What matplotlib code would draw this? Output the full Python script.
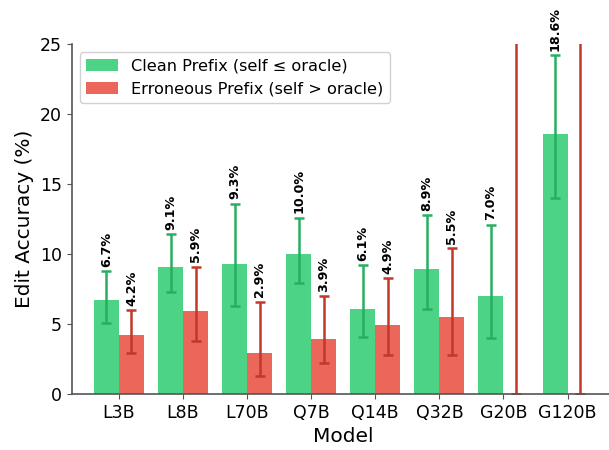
import matplotlib
matplotlib.use("Agg")
import matplotlib.pyplot as plt
import numpy as np

models = ["L3B", "L8B", "L70B", "Q7B", "Q14B", "Q32B", "G20B", "G120B"]
clean = [6.7, 9.1, 9.3, 10.0, 6.1, 8.9, 7.0, 18.6]
clean_lo = [5.1, 7.3, 6.3, 7.9, 4.1, 6.1, 4.0, 14.0]
clean_hi = [8.8, 11.4, 13.6, 12.6, 9.2, 12.8, 12.1, 24.2]
err = [4.2, 5.9, 2.9, 3.9, 4.9, 5.5, 0.0, 0.0]
err_lo = [2.9, 3.8, 1.3, 2.2, 2.8, 2.8, 0.0, 0.0]
err_hi = [6.0, 9.1, 6.6, 7.0, 8.3, 10.4, 100.0, 100.0]

fig = plt.figure(figsize=(6.09, 4.5), dpi=100)
ax = fig.add_axes([71.5/609, 1-394/450, (615-71.5)/609, 350/450])

x = np.arange(len(models))
w = 0.39
c = np.array(clean); e = np.array(err)
cy = [c - np.array(clean_lo), np.array(clean_hi) - c]
ey = [e - np.array(err_lo), np.array(err_hi) - e]

ax.bar(x - w/2, clean, w, color="#2ecc71", alpha=0.85, label="Clean Prefix (self \u2264 oracle)",
       yerr=cy, capsize=3.5, error_kw=dict(ecolor="#27ae60", elinewidth=1.8, capthick=1.8))
ax.bar(x + w/2, err, w, color="#e74c3c", alpha=0.85, label="Erroneous Prefix (self > oracle)",
       yerr=ey, capsize=3.5, error_kw=dict(ecolor="#c0392b", elinewidth=1.8, capthick=1.8))

for i in range(len(models)):
    ax.text(x[i] - w/2, clean_hi[i] + 0.3, f"{clean[i]:.1f}%", rotation=90, ha="center", va="bottom",
            fontsize=9.2, fontweight="bold", clip_on=False)
    if err[i] > 0:
        ax.text(x[i] + w/2, err_hi[i] + 0.3, f"{err[i]:.1f}%", rotation=90, ha="center", va="bottom",
                fontsize=9.2, fontweight="bold", clip_on=False)

ax.set_xlim(-0.74, 7.74)
ax.set_ylim(0, 25)
ax.set_xticks(x)
ax.set_xticklabels(models, fontsize=12.5)
ax.tick_params(axis="y", labelsize=12.5)
ax.set_xlabel("Model", fontsize=14.5)
ax.set_ylabel("Edit Accuracy (%)", fontsize=14.5)
for s in ["top", "right"]:
    ax.spines[s].set_visible(False)
for s in ["left", "bottom"]:
    ax.spines[s].set_color("#555555")
    ax.spines[s].set_linewidth(1.2)
ax.tick_params(colors="#555555", labelcolor="black")
ax.legend(loc="upper left", fontsize=11.6, framealpha=0.9, edgecolor="#cccccc")

fig.savefig("out.png", dpi=100)
